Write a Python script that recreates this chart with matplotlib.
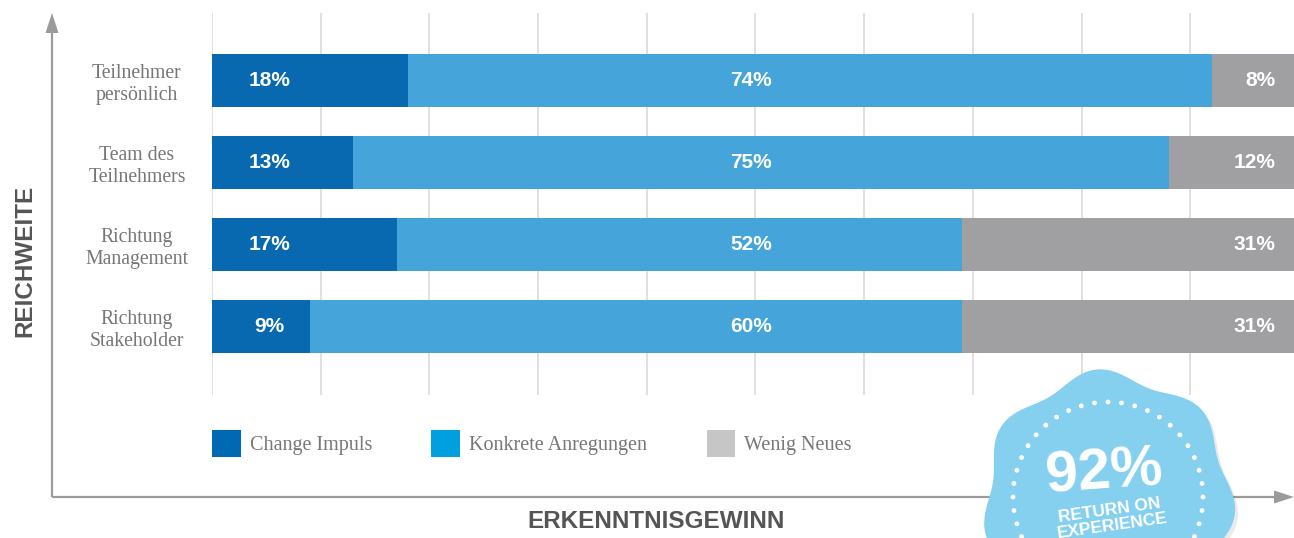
import numpy as np
import matplotlib
matplotlib.use("Agg")
import matplotlib.pyplot as plt
from matplotlib.patches import Patch, Polygon, Circle, FancyArrow

# data
categories = ["Teilnehmer\npersönlich", "Team des\nTeilnehmers", "Richtung\nManagement", "Richtung\nStakeholder"]
change_impuls = [18, 13, 17, 9]
konkrete = [74, 75, 52, 60]
wenig_neues = [8, 12, 31, 31]
series_names = ["Change Impuls", "Konkrete Anregungen", "Wenig Neues"]
badge_value = "92%"
badge_text = "RETURN ON\nEXPERIENCE"

bar_colors = ["#0868b0", "#45a5da", "#a0a0a2"]
legend_colors = ["#0069b4", "#009fe0", "#c6c6c6"]
grey_txt = "#777777"
axis_col = "#9b9b9b"

W, H = 1294, 538
fig = plt.figure(figsize=(W / 100, H / 100), dpi=100)
fig.patch.set_facecolor("white")

# main bar axes (pixel layout: x 212..1294, y 13..395)
ax = fig.add_axes([212 / W, 1 - 395 / H, (W - 212) / W, (395 - 13) / H])
ax.set_xlim(0, (W - 212) / 10.87)
ax.set_ylim(3.835, -0.823)
y = np.arange(len(categories))
h = 53 / 82

left = np.zeros(len(categories))
for vals, col in zip([change_impuls, konkrete, wenig_neues], bar_colors):
    ax.barh(y, vals, left=left, height=h, color=col, zorder=2)
    left = left + np.array(vals)

for i in range(len(categories)):
    kw = dict(color="white", fontsize=15, fontweight="bold", va="center",
              family=["Liberation Sans", "DejaVu Sans"], zorder=3)
    ax.text(5.3, y[i], f"{change_impuls[i]}%", ha="center", **kw)
    ax.text(49.6, y[i], f"{konkrete[i]}%", ha="center", **kw)
    ax.text(97.8, y[i], f"{wenig_neues[i]}%", ha="right", **kw)

ax.set_xticks(np.arange(0, 100, 10))
ax.xaxis.grid(True, color="#dddddd", lw=1.3, zorder=0)
ax.tick_params(axis="x", length=0, labelbottom=False)
ax.set_yticks(y)
ax.set_yticklabels(categories, ha="center", family=["Liberation Serif", "DejaVu Serif"],
                   fontsize=14.2, color=grey_txt, linespacing=1.2)
ax.tick_params(axis="y", length=0, pad=54)
for s in ax.spines.values():
    s.set_visible(False)

handles = [Patch(facecolor=c, edgecolor="none") for c in legend_colors]
leg = ax.legend(handles, series_names, loc="upper left", ncol=3,
                bbox_to_anchor=(212 / W, 1 - 430 / H), bbox_transform=fig.transFigure,
                frameon=False, borderpad=0, borderaxespad=0, handlelength=1.42,
                handleheight=1.72, handletextpad=0.45, columnspacing=2.95,
                prop={"family": ["Liberation Serif", "DejaVu Serif"], "size": 14.5})
for t in leg.get_texts():
    t.set_color(grey_txt)

# overlay axes in pixel coordinates for arrows, titles and badge
ov = fig.add_axes([0, 0, 1, 1], zorder=5)
ov.set_xlim(0, W)
ov.set_ylim(H, 0)
ov.axis("off")
ov.patch.set_alpha(0)

ov.add_patch(FancyArrow(52, 497, 0, -484, width=2.2, head_width=13, head_length=20,
                        length_includes_head=True, color=axis_col, lw=0, zorder=1))
ov.add_patch(FancyArrow(52, 497, W - 52, 0, width=2.2, head_width=13, head_length=20,
                        length_includes_head=True, color=axis_col, lw=0, zorder=1))

title_kw = dict(color="#555555", fontweight="bold", fontsize=17.5,
                family=["Liberation Sans", "DejaVu Sans"])
ov.text(656, 522, "ERKENNTNISGEWINN", ha="center", va="center", **title_kw)
ov.text(25, 261, "REICHWEITE", ha="center", va="center", rotation=90, **title_kw)

# badge
cx, cy = 1108, 497
th = np.linspace(0, 2 * np.pi, 400)
r = 122 + 6 * np.sin(7 * th + 0.6)
ov.add_patch(Polygon(np.c_[cx + 3 + r * np.cos(th), cy + 4 + r * np.sin(th)],
                     closed=True, facecolor="#000000", alpha=0.08, lw=0, zorder=3))
ov.add_patch(Polygon(np.c_[cx + r * np.cos(th), cy + r * np.sin(th)],
                     closed=True, facecolor="#86d0ef", lw=0, zorder=4))
n_dots = 44
for a in np.linspace(0, 2 * np.pi, n_dots, endpoint=False):
    ov.add_patch(Circle((cx + 95 * np.cos(a), cy + 95 * np.sin(a)), 2.4,
                        facecolor="white", lw=0, zorder=5))
ov.text(1104, 473, badge_value, ha="center", va="center", rotation=4, color="white",
        fontsize=42, fontweight="bold", family=["Liberation Sans", "DejaVu Sans"], zorder=6)
ov.text(1111, 518, badge_text, ha="center", va="center", rotation=8, color="white",
        fontsize=12.5, fontweight="bold", linespacing=1.05,
        family=["Liberation Sans", "DejaVu Sans"], zorder=6)

fig.savefig("out.png", dpi=100)
